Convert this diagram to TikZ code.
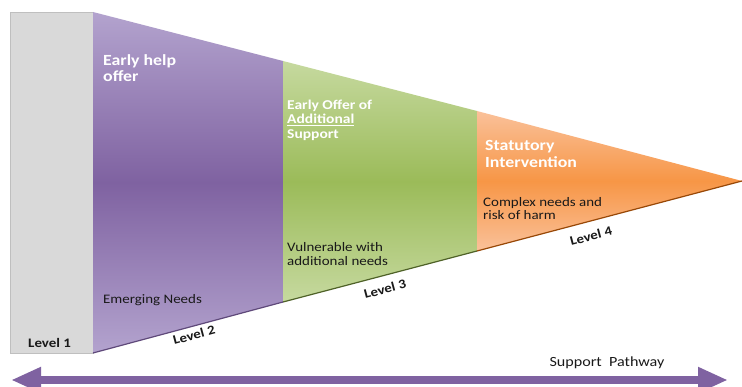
\documentclass[tikz,border=0pt]{standalone}
\usepackage{fontspec}
\setmainfont{Carlito}
\newfontfamily\cf[FakeStretch=1.15]{Carlito}
\usetikzlibrary{arrows.meta}
\definecolor{pl}{HTML}{B3A3CE}
\definecolor{pm}{HTML}{7F62A1}
\definecolor{pd}{HTML}{5F497A}
\definecolor{gl}{HTML}{C6D99F}
\definecolor{gm}{HTML}{9BBB59}
\definecolor{gd}{HTML}{4F6228}
\definecolor{ol}{HTML}{FAC19A}
\definecolor{om}{HTML}{F79646}
\definecolor{od}{HTML}{984807}
\definecolor{gy}{HTML}{D9D9D9}
\tikzset{
  head/.style={font=\cf\bfseries\fontsize{15.5}{16}\selectfont, text=white, anchor=base west, inner sep=0pt},
  subhead/.style={font=\cf\bfseries\fontsize{13.5}{14}\selectfont, text=white, anchor=base west, inner sep=0pt},
  lbl/.style={font=\cf\fontsize{13}{13}\selectfont, text=black!90, anchor=base west, inner sep=0pt},
  lvl/.style={font=\cf\bfseries\fontsize{13}{14}\selectfont, text=black!90, inner sep=0pt},
  pathway/.style={line width=8pt, draw=pm, {Triangle[length=30pt,width=24pt]}-{Triangle[length=30pt,width=24pt]}},
}
\begin{document}
\begin{tikzpicture}[x=1pt,y=-1pt]
\useasboundingbox (0,0) rectangle (742,387);
\fill[white] (0,0) rectangle (742,387);
% key points
\coordinate (t1) at (93,12);
\coordinate (b1) at (93,353);
\coordinate (t2) at (283,61);
\coordinate (b2) at (283,302);
\coordinate (t3) at (477,111);
\coordinate (b3) at (477,251);
\coordinate (apex) at (742,181);
% level 1 box
\draw[fill=gy, draw=black!25, line width=0.6pt] (10,12) rectangle (93,353);
% purple
\shade[top color=pl, bottom color=pl, middle color=pm] (t1) -- (t2) -- (b2) -- (b1) -- cycle;
\draw[pd, line width=1.2pt] (b1) -- (b2);
% green
\shade[top color=gl, bottom color=gl, middle color=gm] (t2) -- (t3) -- (b3) -- (b2) -- cycle;
\draw[gd, line width=1.2pt] (b2) -- (b3);
% orange
\shade[top color=ol, bottom color=ol, middle color=om] (t3) -- (apex) -- (b3) -- cycle;
\draw[od, line width=1.2pt] (b3) -- (apex);
% texts
\node[head] (eh1) at (103,66) {Early help};
\node[head] (eh2) at (103,82) {offer};
\node[subhead] (eo1) at (287,109.5) {Early Offer of};
\node[subhead] (eo2) at (287,124) {\underline{Additional}};
\node[subhead] (eo3) at (287,138.5) {Support};
\node[head] (si1) at (485,151) {Statutory};
\node[head] (si2) at (485,168) {Intervention};
\node[lbl] (cn1) at (483,207) {Complex needs and};
\node[lbl] (cn2) at (483,220) {risk of harm};
\node[lbl] (vw1) at (287,252) {Vulnerable with};
\node[lbl] (vw2) at (287,265.5) {additional needs};
\node[lbl] (en) at (103,304) {Emerging Needs};
\node[lvl, anchor=base west] (l1) at (28,348) {Level 1};
\node[lvl, rotate=15] (l2) at (194,335) {Level 2};
\node[lvl, rotate=15] (l3) at (385,289) {Level 3};
\node[lvl, rotate=15] (l4) at (591,236) {Level 4};
\node[lbl, anchor=center, font=\cf\fontsize{14}{14}\selectfont] (sp) at (607,363) {Support\ \ Pathway};
% arrow
\coordinate (al) at (11,380);
\coordinate (ar) at (728,380);
\draw[pathway] (al) -- (ar);
\end{tikzpicture}
\end{document}
